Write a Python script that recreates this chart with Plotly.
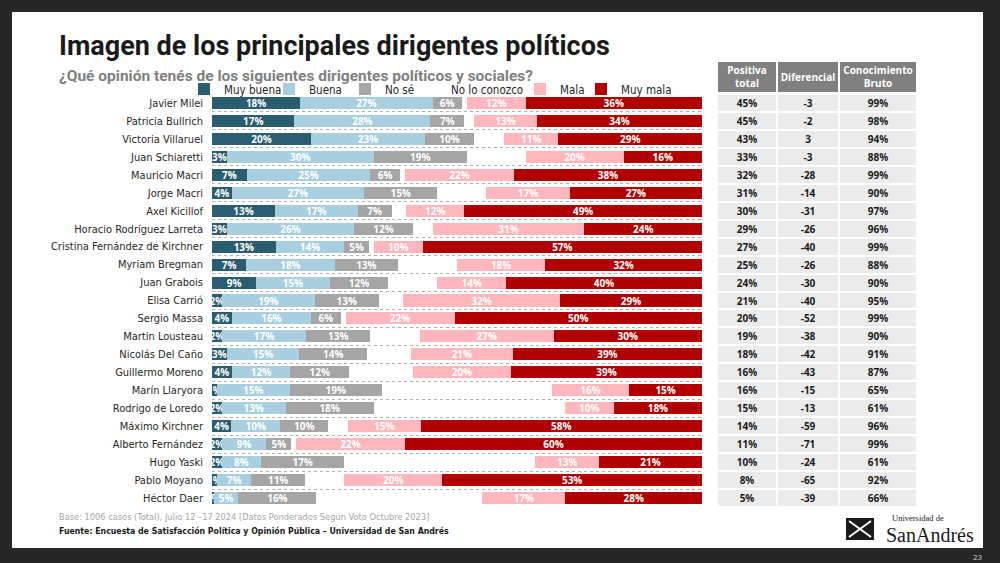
import plotly.graph_objects as go

# Data
names = [
    "Javier Milei", "Patricia Bullrich", "Victoria Villaruel", "Juan Schiaretti",
    "Mauricio Macri", "Jorge Macri", "Axel Kicillof", "Horacio Rodríguez Larreta",
    "Cristina Fernández de Kirchner", "Myriam Bregman", "Juan Grabois", "Elisa Carrió",
    "Sergio Massa", "Martin Lousteau", "Nicolás Del Caño", "Guillermo Moreno",
    "Marín Llaryora", "Rodrigo de Loredo", "Máximo Kirchner", "Alberto Fernández",
    "Hugo Yaski", "Pablo Moyano", "Héctor Daer",
]
muy_buena = [18, 17, 20, 3, 7, 4, 13, 3, 13, 7, 9, 2, 4, 2, 3, 4, 1, 2, 4, 2, 2, 1, 0.4]
buena = [27, 28, 23, 30, 25, 27, 17, 26, 14, 18, 15, 19, 16, 17, 15, 12, 15, 13, 10, 9, 8, 7, 5]
no_se = [6, 7, 10, 19, 6, 15, 7, 12, 5, 13, 12, 13, 6, 13, 14, 12, 19, 18, 10, 5, 17, 11, 16]
no_conoce = [1, 2, 6, 12, 1, 10, 3, 4, 1, 12, 10, 5, 1, 10, 9, 13, 35, 39, 4, 1, 39, 8, 34]
mala = [12, 13, 11, 20, 22, 17, 12, 31, 10, 18, 14, 32, 22, 27, 21, 20, 16, 10, 15, 22, 13, 20, 17]
muy_mala = [36, 34, 29, 16, 38, 27, 49, 24, 57, 32, 40, 29, 50, 30, 39, 39, 15, 18, 58, 60, 21, 53, 28]

positiva = [45, 45, 43, 33, 32, 31, 30, 29, 27, 25, 24, 21, 20, 19, 18, 16, 16, 15, 14, 11, 10, 8, 5]
diferencial = [-3, -2, 3, -3, -28, -14, -31, -26, -40, -26, -30, -40, -52, -38, -42, -43, -15, -13, -59, -71, -24, -65, -39]
conocimiento = [99, 98, 94, 88, 99, 90, 97, 96, 99, 88, 90, 95, 99, 90, 91, 87, 65, 61, 96, 99, 61, 92, 66]
table_header = ["<b>Positiva<br>total</b>", "<b>Diferencial</b>", "<b>Conocimiento<br>Bruto</b>"]

series = [
    ("Muy buena", muy_buena, "#2b5d70", True),
    ("Buena", buena, "#a8cfe0", True),
    ("No sé", no_se, "#a5a5a5", True),
    ("No lo conozco", no_conoce, "#ffffff", False),
    ("Mala", mala, "#ffb6bd", True),
    ("Muy mala", muy_mala, "#b00000", True),
]

NARROW = "Liberation Sans Narrow, Arial Narrow, DejaVu Sans Condensed, sans-serif"
W, H = 1000, 563
col_edges = [0, 59, 121, 198]                  # table column boundaries, px
legend_text_x = [218, 303, 379, 445, 554, 615]  # where each legend label starts, px


def px(x, y):
    # pixel position -> paper coords (margins are zero)
    return x / W, 1 - y / H


fig = go.Figure()

legend_layout = {}
for i, (label, vals, color, show_text) in enumerate(series):
    key = "legend" if i == 0 else f"legend{i + 1}"
    fig.add_trace(go.Bar(
        y=names, x=vals, name=label, orientation="h", legend=key,
        marker=dict(color=color, line=dict(width=0)),
        text=[f"{v:.0f}%" for v in vals] if show_text else None,
        textposition="inside", insidetextanchor="middle",
        constraintext="none", textangle=0,
        textfont=dict(family="Open Sans", size=10, color="white", weight="bold"),
        hoverinfo="skip",
    ))
    lx, ly = px(legend_text_x[i] - 40 + 6, 89)
    legend_layout[key] = dict(
        orientation="h", x=lx, y=ly, xanchor="left", yanchor="middle",
        font=dict(family=NARROW, size=11.5, color="#262626"),
        itemwidth=30, bgcolor="rgba(0,0,0,0)",
    )

# table body, one heatmap row per dirigente, aligned to the bar rows
cell_text = [[f"<b>{p}%</b>", f"<b>{d}</b>", f"<b>{c}%</b>"]
             for p, d, c in zip(positiva, diferencial, conocimiento)]
fig.add_trace(go.Heatmap(
    x=col_edges, y=names,
    z=[[p, d, c] for p, d, c in zip(positiva, diferencial, conocimiento)],
    colorscale=[[0, "#ebebeb"], [1, "#ebebeb"]], showscale=False,
    xgap=2, ygap=2, text=cell_text, texttemplate="%{text}",
    textfont=dict(family="Open Sans", size=10, color="#1a1a1a"),
    xaxis="x2", yaxis="y2", hoverinfo="skip", showlegend=False,
))
# table header
fig.add_trace(go.Heatmap(
    x=col_edges, y=["header"], z=[[0, 0, 0]],
    colorscale=[[0, "#808080"], [1, "#808080"]], showscale=False,
    xgap=2, text=[table_header], texttemplate="%{text}",
    textfont=dict(family="Open Sans", size=10, color="white"),
    xaxis="x2", yaxis="y3", hoverinfo="skip", showlegend=False,
))

x0, _ = px(212, 0)
x1, _ = px(702, 0)
_, yb = px(0, 507)
_, yt = px(0, 94)
tx0, _ = px(717, 0)
tx1, _ = px(917, 0)
_, hb = px(0, 92)
_, ht = px(0, 62)

fig.update_layout(
    width=W, height=H,
    margin=dict(l=0, r=0, t=0, b=0),
    paper_bgcolor="#262626", plot_bgcolor="white",
    barmode="stack", barnorm="percent", bargap=0.33,
    xaxis=dict(domain=[x0, x1], range=[0, 100], visible=False, fixedrange=True),
    yaxis=dict(
        domain=[yb, yt], type="category", categoryorder="array", categoryarray=names,
        autorange="reversed", tickson="boundaries", ticks="",
        showgrid=True, gridcolor="#b0b0b0", griddash="dot", gridwidth=1,
        ticklabelstandoff=8, zeroline=False, fixedrange=True,
        tickfont=dict(family=NARROW, size=11, color="#262626"),
    ),
    xaxis2=dict(domain=[tx0, tx1], range=[0, 198], visible=False, anchor="y2"),
    yaxis2=dict(domain=[yb, yt], type="category", categoryorder="array",
                categoryarray=names, autorange="reversed", visible=False, anchor="x2"),
    yaxis3=dict(domain=[hb, ht], visible=False, anchor="x2"),
    showlegend=True,
    **legend_layout,
)

# white slide on dark background
fig.add_shape(type="rect", xref="paper", yref="paper",
              x0=12 / W, x1=983 / W, y0=1 - 548 / H, y1=1 - 12 / H,
              fillcolor="white", line=dict(width=0), layer="below")

texts = [
    ("Imagen de los principales dirigentes políticos", 57, 46,
     dict(family="Roboto", size=27, color="#1a1a1a", weight="bold")),
    ("¿Qué opinión tenés de los siguientes dirigentes políticos y sociales?", 57, 76,
     dict(family="Roboto", size=15.5, color="#7f7f7f", weight="bold")),
    ("Base: 1006 casos (Total), Julio 12 –17 2024 [Datos Ponderados Según Voto Octubre 2023]", 57, 516,
     dict(family=NARROW, size=9.2, color="#a6a6a6")),
    ("<b>Fuente: Encuesta de Satisfacción Política y Opinión Pública – Universidad de San Andrés</b>", 57, 531,
     dict(family=NARROW, size=8.7, color="#1a1a1a")),
    ("Universidad de", 890, 518, dict(family="Liberation Serif", size=8.5, color="#1a1a1a")),
    ("SanAndrés", 884, 535, dict(family="Liberation Serif", size=20, color="#1a1a1a")),
]
for t, x, y, f in texts:
    ax, ay = px(x, y)
    fig.add_annotation(text=t, x=ax, y=ay, xref="paper", yref="paper",
                       xanchor="left", yanchor="middle", showarrow=False, font=f)

ax, ay = px(985, 556)
fig.add_annotation(text="23", x=ax, y=ay, xref="paper", yref="paper", xanchor="right",
                   yanchor="middle", showarrow=False,
                   font=dict(family="Open Sans", size=8, color="#d0d0d0"))

# simple crest next to the logotype
fig.add_shape(type="rect", xref="paper", yref="paper",
              x0=846 / W, x1=874 / W, y0=1 - 540 / H, y1=1 - 518 / H,
              fillcolor="#1a1a1a", line=dict(width=0))
for a, b in [((849, 537), (871, 521)), ((849, 521), (871, 537))]:
    fig.add_shape(type="line", xref="paper", yref="paper",
                  x0=a[0] / W, x1=b[0] / W, y0=1 - a[1] / H, y1=1 - b[1] / H,
                  line=dict(color="white", width=2))

fig.write_html("out.html", config={"displayModeBar": False},
               post_script="document.body.style.margin='0';")
